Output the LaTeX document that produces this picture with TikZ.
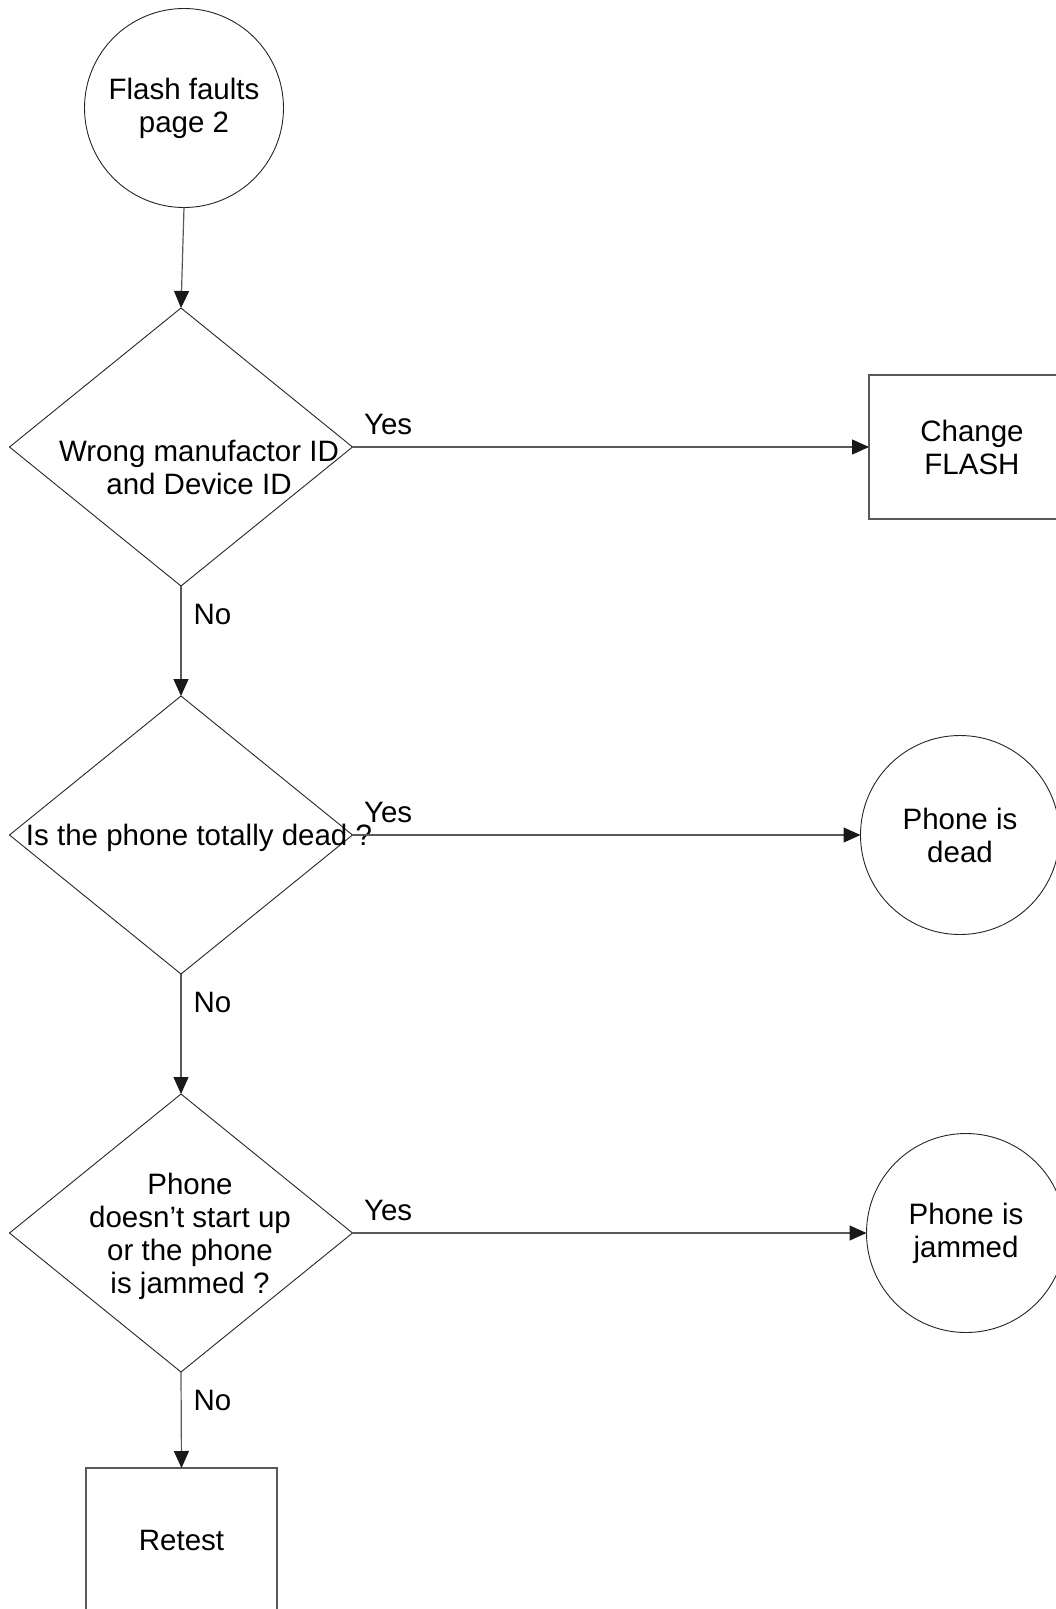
\documentclass[tikz,border=0pt]{standalone}
\usepackage{fontspec}
\setmainfont{Liberation Sans}
\usetikzlibrary{shapes.geometric}
\usetikzlibrary{arrows.meta}
\tikzset{txt/.style={font=\fontsize{29.5}{33}\selectfont, align=center, inner sep=0pt}}
\tikzset{decision/.style={diamond, draw=black!85, line width=.9pt, inner sep=0pt, outer sep=0pt}}
\tikzset{terminal/.style={circle, draw=black!85, line width=.9pt, minimum size=199pt, inner sep=0pt, outer sep=0pt, txt}}
\tikzset{process/.style={rectangle, draw=black!65, line width=1.2pt, inner sep=0pt, outer sep=0pt, txt}}
\tikzset{link/.style={draw=black!65, line width=1.2pt, -{Triangle[length=17pt,width=15pt,color=black!90]}}}

\begin{document}
\begin{tikzpicture}[x=1pt,y=-1pt]
  \useasboundingbox (0,0) rectangle (1056,1609);
  \clip (0,0) rectangle (1056,1609);

  \node[terminal] (start) at (184,108) {Flash faults\\page 2};
  \foreach \lab/\y in {
    q1/447,
    q2/835,
    q3/1233%
  } {
    \node[decision, minimum width=343pt, minimum height=278pt] (\lab) at (181,\y) {};
  }
  \node[txt] (q1txt) at (199,467) {Wrong manufactor ID\\and Device ID};
  \node[txt] (q2txt) at (199,838) {Is the phone totally dead ?};
  \node[txt] (q3txt) at (190,1236) {Phone\\doesn't start up\\or the phone\\is jammed ?};

  \node[process, minimum width=206pt, minimum height=144pt] (flash) at (972,447) {Change\\FLASH};
  \node[terminal] (dead) at (960,835) {Phone is\\dead};
  \node[terminal] (jammed) at (966,1233) {Phone is\\jammed};
  \node[process, minimum width=191pt, minimum height=144pt] (retest) at (181.5,1540) {Retest};

  \draw[link] (start.south) -- (q1.north);
  \foreach \u/\v in {
    q1/q2,
    q2/q3,
    q3/retest%
  }{
    \draw[link] (\u.south) -- node[txt, at start, anchor=north west, xshift=12pt, yshift=-18pt] {No} (\v.north);
  }
  \foreach \u/\v in {
    q1/flash,
    q2/dead,
    q3/jammed%
  }{
    \draw[link] (\u.east) -- node[txt, at start, anchor=south west, xshift=11pt, yshift=12pt] {Yes} (\v.west);
  }
\end{tikzpicture}
\end{document}
